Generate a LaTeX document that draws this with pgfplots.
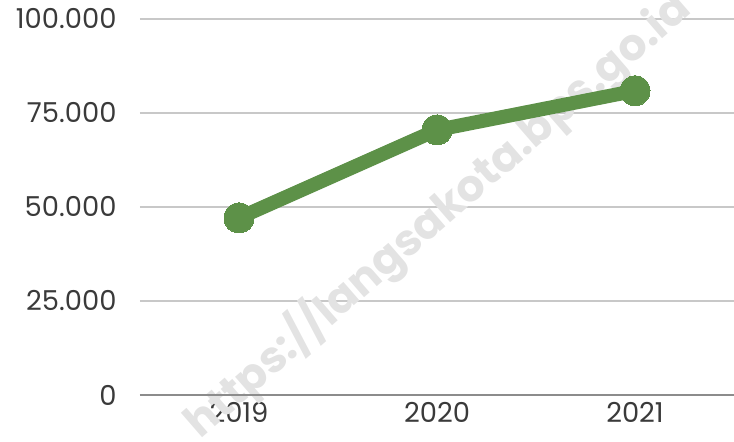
\documentclass[border=0pt]{standalone}
\usepackage{pgfplots}
\pgfplotsset{compat=1.18}
\usepackage{fontspec}
\setmainfont{Poppins}
\definecolor{lgreen}{HTML}{5D9148}
\definecolor{gridc}{HTML}{C8C8C8}
\definecolor{axisc}{HTML}{8C8C8C}
\definecolor{txt}{HTML}{3A3A3A}
\definecolor{wm}{HTML}{E3E3E3}
\begin{document}
\begin{tikzpicture}[x=1bp,y=1bp]
\begin{axis}[
  at={(0,0)}, anchor=south west,
  scale only axis, width=594bp, height=376bp,
  xmin=-0.5, xmax=2.5, ymin=0, ymax=100000,
  xtick={0,1,2}, xticklabels={2019,2020,2021},
  ytick={0,25000,50000,75000,100000},
  yticklabels={0,25.000,50.000,75.000,100.000},
  scaled y ticks=false,
  tick label style={font=\fontsize{27.5}{30}\selectfont, text=txt},
  yticklabel style={xshift=-20bp},
  xticklabel style={yshift=-4bp},
  axis line style={draw=none},
  ymajorgrids, grid style={gridc, line width=1.2bp},
  major tick length=0pt,
  clip=false,
]
\node[rotate=41, text=wm, font=\bfseries\fontsize{44}{48}\selectfont] at (axis cs:1.0,47900) {https://langsakota.bps.go.id};
\draw[axisc, line width=1.4bp] (axis cs:-0.5,0) -- (axis cs:2.5,0);
\addplot[lgreen, line width=14bp, mark=*, mark size=15bp, mark options={fill=lgreen, draw=lgreen, line width=0pt}] coordinates {(0,47100) (1,70500) (2,80900)};
\end{axis}
\pgfresetboundingbox
\path (-140,-47) rectangle (594,395);
\end{tikzpicture}
\end{document}
